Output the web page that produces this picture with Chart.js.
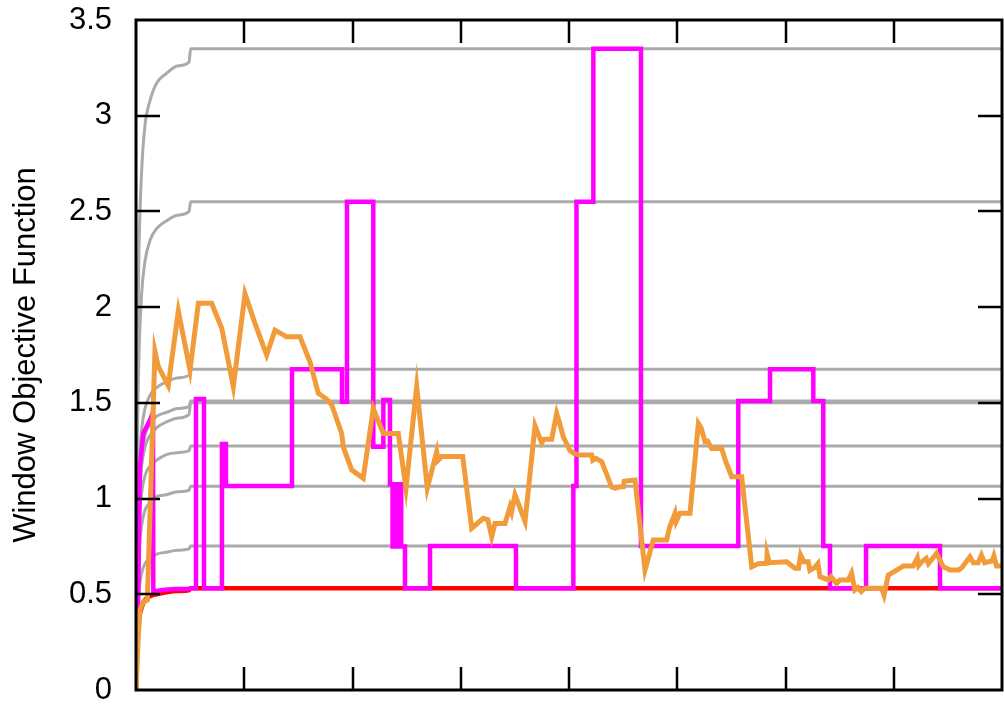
<!DOCTYPE html>
<html>
<head>
<meta charset="utf-8">
<script src="https://cdn.jsdelivr.net/npm/chart.js@4.4.0/dist/chart.umd.min.js"></script>
<style>
  html, body { margin: 0; padding: 0; background: #fff; }
</style>
</head>
<body>
<canvas id="chart" width="1004" height="706"></canvas>
<script>
// axis setup
const xMarks = [1, 2, 3, 4, 5, 6, 7];
const yMarks = [0.5, 1, 1.5, 2, 2.5, 3];

// saturating grey curves: shared x positions, one y list per level
const curveX = [0, 0.004, 0.012, 0.028, 0.052, 0.083, 0.13, 0.19, 0.28, 0.38, 0.49, 0.505, 8];
const grey335 = [0, 1.0, 1.68, 2.31, 2.71, 2.95, 3.08, 3.17, 3.22, 3.26, 3.28, 3.35, 3.35];
const grey255 = [0, 0.77, 1.28, 1.76, 2.07, 2.24, 2.35, 2.41, 2.45, 2.48, 2.50, 2.55, 2.55];
const grey168 = [0, 0.50, 0.84, 1.16, 1.36, 1.47, 1.54, 1.58, 1.61, 1.63, 1.645, 1.675, 1.675];
const grey151 = [0, 0.45, 0.76, 1.04, 1.22, 1.33, 1.39, 1.43, 1.45, 1.47, 1.48, 1.51, 1.51];
const grey150 = [0, 0.43, 0.72, 0.99, 1.17, 1.27, 1.33, 1.37, 1.40, 1.42, 1.44, 1.50, 1.50];
const grey128 = [0, 0.38, 0.64, 0.88, 1.03, 1.12, 1.17, 1.20, 1.23, 1.24, 1.25, 1.275, 1.275];
const grey107 = [0, 0.32, 0.53, 0.73, 0.86, 0.94, 0.98, 1.01, 1.02, 1.035, 1.044, 1.065, 1.065];
const grey075 = [0, 0.23, 0.38, 0.52, 0.61, 0.66, 0.69, 0.71, 0.72, 0.73, 0.737, 0.752, 0.752];
const redMin  = [0, 0.16, 0.27, 0.37, 0.43, 0.47, 0.49, 0.50, 0.51, 0.517, 0.521, 0.532, 0.532];

// magenta: start curve, then step changes (x where it switches, new value)
const magentaStart = [
  [0, 0], [0.021, 0.5], [0.037, 1.17], [0.067, 1.34], [0.129, 1.41], [0.157, 1.45],
  [0.160, 0.515], [0.25, 0.522], [0.35, 0.527], [0.49, 0.528], [0.5, 0.532]
];
const magentaSteps = [
  [0.5, 0.532], [0.554, 1.52], [0.628, 0.532], [0.794, 1.285], [0.831, 1.066],
  [1.441, 1.675], [1.903, 1.506], [1.949, 2.55], [2.192, 1.271], [2.285, 1.515],
  [2.346, 1.075], [2.37, 0.75], [2.39, 1.075], [2.41, 0.75], [2.43, 1.075], [2.45, 0.75],
  [2.485, 0.532], [2.716, 0.752], [3.510, 0.532], [4.040, 1.066], [4.069, 2.55],
  [4.225, 3.35], [4.665, 0.752], [5.564, 1.51], [5.857, 1.675], [6.257, 1.51],
  [6.349, 0.752], [6.411, 0.532], [6.744, 0.752], [7.427, 0.532], [8.0, 0.532]
];

// orange running window objective
const orangeLine = [
  [0, 0], [0.021, 0.28], [0.037, 0.42], [0.067, 0.46], [0.105, 0.47], [0.175, 1.77],
  [0.206, 1.69], [0.298, 1.59], [0.391, 1.98], [0.499, 1.67], [0.576, 2.02], [0.699, 2.02],
  [0.792, 1.89], [0.899, 1.585], [1.007, 2.07], [1.099, 1.915], [1.207, 1.75], [1.284, 1.88],
  [1.392, 1.845], [1.515, 1.845], [1.607, 1.715], [1.684, 1.55], [1.76, 1.52], [1.808, 1.49],
  [1.90, 1.34], [1.915, 1.27], [1.992, 1.15], [2.099, 1.106], [2.192, 1.47], [2.285, 1.34],
  [2.423, 1.34], [2.494, 1.054], [2.593, 1.585], [2.691, 1.054], [2.778, 1.245], [2.79, 1.20],
  [2.824, 1.22], [3.018, 1.22], [3.101, 0.845], [3.208, 0.897], [3.25, 0.89], [3.286, 0.80],
  [3.316, 0.87], [3.409, 0.87], [3.455, 0.957], [3.47, 0.93], [3.501, 1.02], [3.594, 0.88],
  [3.686, 1.38], [3.748, 1.29], [3.77, 1.31], [3.84, 1.31], [3.886, 1.445], [3.91, 1.40],
  [3.947, 1.323], [4.009, 1.25], [4.05, 1.235], [4.102, 1.228], [4.21, 1.228], [4.22, 1.20],
  [4.25, 1.21], [4.302, 1.193], [4.394, 1.06], [4.425, 1.054], [4.46, 1.06], [4.502, 1.062],
  [4.51, 1.09], [4.61, 1.097], [4.702, 0.627], [4.779, 0.784], [4.902, 0.784], [4.93, 0.85],
  [4.979, 0.923], [4.99, 0.88], [5.025, 0.923], [5.118, 0.923], [5.195, 1.393], [5.22, 1.37],
  [5.257, 1.297], [5.28, 1.30], [5.318, 1.262], [5.41, 1.262], [5.45, 1.19], [5.503, 1.114],
  [5.595, 1.114], [5.688, 0.644], [5.75, 0.66], [5.826, 0.662], [5.83, 0.71], [5.85, 0.665],
  [6.01, 0.67], [6.087, 0.636], [6.12, 0.636], [6.14, 0.705], [6.17, 0.67], [6.21, 0.67],
  [6.225, 0.625], [6.27, 0.64], [6.30, 0.66], [6.318, 0.592], [6.395, 0.575], [6.42, 0.592],
  [6.472, 0.557], [6.502, 0.575], [6.58, 0.575], [6.61, 0.61], [6.64, 0.522], [6.67, 0.535],
  [6.70, 0.514], [6.73, 0.531], [6.888, 0.531], [6.91, 0.496], [6.95, 0.60], [7.057, 0.636],
  [7.088, 0.648], [7.18, 0.648], [7.218, 0.69], [7.23, 0.65], [7.26, 0.67], [7.30, 0.688],
  [7.32, 0.66], [7.396, 0.714], [7.457, 0.644], [7.488, 0.636], [7.52, 0.627], [7.60, 0.627],
  [7.63, 0.64], [7.704, 0.696], [7.735, 0.665], [7.78, 0.665], [7.81, 0.705], [7.84, 0.665],
  [7.91, 0.675], [7.925, 0.70], [7.95, 0.648], [8.0, 0.648]
];

const pts = (pairs) => pairs.map(([x, y]) => ({ x, y }));
const curve = (ys) => ys.map((y, i) => ({ x: curveX[i], y }));

function greyLine(ys) {
  return {
    data: curve(ys), borderColor: '#aaaaaa', borderWidth: 3,
    pointRadius: 0, cubicInterpolationMode: 'monotone', order: 4
  };
}

const frame = {
  id: 'frame',
  afterDatasetsDraw(chart) {
    const { ctx, chartArea: a, scales: { x, y } } = chart;
    ctx.save();
    ctx.strokeStyle = '#000';
    ctx.lineWidth = 2.5;
    ctx.beginPath();
    xMarks.forEach((v) => {
      const px = Math.round(x.getPixelForValue(v));
      ctx.moveTo(px, a.bottom); ctx.lineTo(px, a.bottom - 23);
      ctx.moveTo(px, a.top); ctx.lineTo(px, a.top + 23);
    });
    yMarks.forEach((v) => {
      const py = Math.round(y.getPixelForValue(v));
      ctx.moveTo(a.left, py); ctx.lineTo(a.left + 24, py);
      ctx.moveTo(a.right, py); ctx.lineTo(a.right - 24, py);
    });
    ctx.stroke();
    ctx.lineWidth = 3;
    ctx.strokeRect(a.left, a.top, a.right - a.left, a.bottom - a.top);
    ctx.restore();
  }
};

new Chart(document.getElementById('chart'), {
  type: 'line',
  data: {
    datasets: [
      { data: pts(orangeLine), borderColor: '#f29b3a', borderWidth: 5, pointRadius: 0, tension: 0, order: 0 },
      { data: pts(magentaStart), borderColor: '#ff00ff', borderWidth: 4.5, pointRadius: 0, tension: 0, order: 1 },
      { data: pts(magentaSteps), borderColor: '#ff00ff', borderWidth: 4.5, pointRadius: 0, stepped: 'before', order: 1 },
      { data: curve(redMin), borderColor: '#ff0000', borderWidth: 4.5, pointRadius: 0, cubicInterpolationMode: 'monotone', order: 2 },
      greyLine(grey335), greyLine(grey255), greyLine(grey168), greyLine(grey151),
      greyLine(grey150), greyLine(grey128), greyLine(grey107), greyLine(grey075)
    ]
  },
  options: {
    responsive: false,
    animation: false,
    layout: { padding: { top: 20, right: 2, bottom: 16, left: 0 } },
    plugins: { legend: { display: false }, tooltip: { enabled: false } },
    scales: {
      x: {
        type: 'linear', min: 0, max: 8,
        ticks: { display: false },
        grid: { display: false, drawTicks: false },
        border: { display: false },
        afterFit: (s) => { s.height = 0; s.paddingLeft = 0; s.paddingRight = 0; }
      },
      y: {
        min: 0, max: 3.5,
        ticks: {
          stepSize: 0.5, padding: 24, color: '#000',
          font: { family: '"Liberation Sans", Arial, sans-serif', size: 31 },
          callback: (v) => String(Number(v.toFixed(1)))
        },
        grid: { display: false, drawTicks: false },
        border: { display: false },
        title: {
          display: true, text: 'Window Objective Function', color: '#000',
          font: { family: '"Liberation Sans", Arial, sans-serif', size: 31 },
          padding: { top: 8, bottom: 0 }
        },
        afterFit: (s) => { s.width = 136; s.paddingTop = 0; s.paddingBottom = 0; }
      }
    }
  },
  plugins: [frame]
});
</script>
</body>
</html>
